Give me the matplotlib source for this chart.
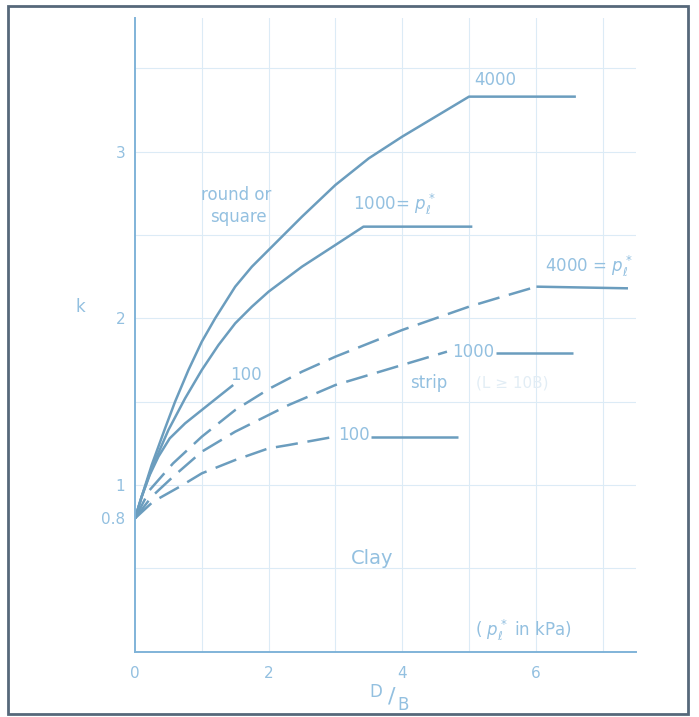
"""Settlement factor k against embedment D/B for footings on clay (pressuremeter method)."""

import matplotlib

matplotlib.use("Agg")
import matplotlib.pyplot as plt
from matplotlib.patches import Rectangle

plt.rcParams["font.family"] = ["DejaVu Sans"]
plt.rcParams["lines.scale_dashes"] = False
plt.rcParams["mathtext.fontset"] = "dejavusans"

# round or square footings (solid)
sq_4000_x = [0, 0.1, 0.25, 0.45, 0.6, 0.8, 1.0, 1.2, 1.5, 1.75, 2.0, 2.5, 3.0, 3.5, 4.0, 4.5, 5.0, 6.6]
sq_4000_k = [0.8, 0.93, 1.12, 1.34, 1.5, 1.69, 1.86, 2.0, 2.19, 2.31, 2.41, 2.61, 2.80, 2.96, 3.09, 3.21, 3.33, 3.33]
sq_1000_x = [0, 0.1, 0.25, 0.5, 0.75, 1.0, 1.25, 1.5, 1.75, 2.0, 2.5, 3.0, 3.42, 5.05]
sq_1000_k = [0.8, 0.93, 1.1, 1.33, 1.52, 1.69, 1.84, 1.97, 2.07, 2.16, 2.31, 2.44, 2.55, 2.55]
sq_100_x = [0, 0.1, 0.22, 0.35, 0.52, 0.75, 1.0, 1.25, 1.47]
sq_100_k = [0.8, 0.93, 1.06, 1.17, 1.28, 1.37, 1.45, 1.53, 1.6]

# strip footings (dashed), flat tails drawn solid after the label
st_4000_x = [0, 0.22, 0.57, 1.0, 1.5, 2.02, 2.5, 3.0, 3.5, 4.0, 4.5, 5.0, 5.5, 6.01]
st_4000_k = [0.8, 0.97, 1.13, 1.29, 1.45, 1.58, 1.68, 1.77, 1.85, 1.93, 2.0, 2.07, 2.13, 2.19]
st_4000_tail_x = [6.01, 7.38]
st_4000_tail_k = [2.19, 2.18]
st_1000_x = [0, 0.25, 0.57, 1.0, 1.5, 2.0, 2.3, 3.0, 3.5, 4.0, 4.67]
st_1000_k = [0.8, 0.93, 1.05, 1.2, 1.32, 1.42, 1.48, 1.6, 1.66, 1.72, 1.8]
st_1000_tail_x = [5.41, 6.56]
st_1000_tail_k = [1.79, 1.79]
st_100_x = [0, 0.27, 0.67, 1.0, 1.5, 2.0, 2.3, 2.99]
st_100_k = [0.8, 0.9, 0.99, 1.07, 1.15, 1.22, 1.24, 1.29]
st_100_tail_x = [3.54, 4.83]
st_100_tail_k = [1.29, 1.29]

x_ticks = [0, 2, 4, 6]
x_tick_labels = ["0", "2", "4", "6"]
k_ticks = [0.8, 1, 2, 3]
k_tick_labels = ["0.8", "1", "2", "3"]
grid_x = [1, 2, 3, 4, 5, 6, 7]
grid_k = [0.5, 1, 1.5, 2, 2.5, 3, 3.5]

LINE = "#6b9dbe"
TEXT = "#93c0e0"
AXIS = "#80b3d8"
GRID = "#dcebf6"
FRAME = "#56687a"

fig = plt.figure(figsize=(6.99, 7.17), dpi=100)
fig.patches.append(Rectangle((0.0114, 0.004), 0.973, 0.988, transform=fig.transFigure,
                             fill=False, edgecolor=FRAME, linewidth=2.0))
ax = fig.add_axes([135 / 699, 65.3 / 717, 501 / 699, 633.4 / 717])
ax.set_xlim(0, 7.5)
ax.set_ylim(0, 3.8)

for gx in grid_x:
    ax.axvline(gx, color=GRID, linewidth=0.8, zorder=0)
for gk in grid_k:
    ax.axhline(gk, color=GRID, linewidth=0.8, zorder=0)

solid = dict(color=LINE, linewidth=1.8, solid_capstyle="butt", solid_joinstyle="round")
dashed = dict(color=LINE, linewidth=1.8, linestyle=(0, (16, 7)), dash_capstyle="butt")

ax.plot(sq_4000_x, sq_4000_k, **solid)
ax.plot(sq_1000_x, sq_1000_k, **solid)
ax.plot(sq_100_x, sq_100_k, **solid)
ax.plot(st_4000_x, st_4000_k, **dashed)
ax.plot(st_4000_tail_x, st_4000_tail_k, **solid)
ax.plot(st_1000_x, st_1000_k, **dashed)
ax.plot(st_1000_tail_x, st_1000_tail_k, **solid)
ax.plot(st_100_x, st_100_k, **dashed)
ax.plot(st_100_tail_x, st_100_tail_k, **solid)

fs = 12
ax.text(1.52, 2.74, "round or", color=TEXT, fontsize=fs, ha="center", va="center")
ax.text(1.55, 2.61, "square", color=TEXT, fontsize=fs, ha="center", va="center")
ax.text(5.39, 3.43, "4000", color=TEXT, fontsize=fs, ha="center", va="center")
ax.text(3.26, 2.65, r"1000= $p_\ell^*$", color=TEXT, fontsize=fs, ha="left", va="baseline")
ax.text(6.14, 2.28, r"4000 = $p_\ell^*$", color=TEXT, fontsize=fs, ha="left", va="baseline")
ax.text(5.07, 1.80, "1000", color=TEXT, fontsize=fs, ha="center", va="center")
ax.text(4.39, 1.61, "strip", color=TEXT, fontsize=fs, ha="center", va="center")
ax.text(5.65, 1.61, "(L ≥ 10B)", color="#e2edf5", fontsize=fs - 1, ha="center", va="center")
ax.text(1.66, 1.66, "100", color=TEXT, fontsize=fs, ha="center", va="center")
ax.text(3.28, 1.30, "100", color=TEXT, fontsize=fs, ha="center", va="center")
ax.text(3.55, 0.56, "Clay", color=TEXT, fontsize=fs + 2, ha="center", va="center")
ax.text(5.82, 0.13, r"( $p_\ell^*$ in kPa)", color=TEXT, fontsize=fs, ha="center", va="center")
ax.text(-0.82, 2.07, "k", color=TEXT, fontsize=fs, ha="center", va="center")

# D/B axis title written as a stacked fraction
ax.text(3.6, -0.24, "D", color=TEXT, fontsize=fs, ha="center", va="center", clip_on=False)
ax.text(3.84, -0.27, "/", color=TEXT, fontsize=fs + 4, ha="center", va="center", clip_on=False)
ax.text(4.02, -0.32, "B", color=TEXT, fontsize=fs, ha="center", va="center", clip_on=False)

ax.set_xticks(x_ticks)
ax.set_xticklabels(x_tick_labels)
ax.set_yticks(k_ticks)
ax.set_yticklabels(k_tick_labels)
ax.tick_params(axis="x", length=0, pad=10, labelsize=11, labelcolor=TEXT)
ax.tick_params(axis="y", length=0, pad=7, labelsize=11, labelcolor=TEXT)

for side in ("top", "right"):
    ax.spines[side].set_visible(False)
for side in ("left", "bottom"):
    ax.spines[side].set_color(AXIS)
    ax.spines[side].set_linewidth(1.4)
ax.set_facecolor("none")

fig.savefig("out.png", dpi=100)
